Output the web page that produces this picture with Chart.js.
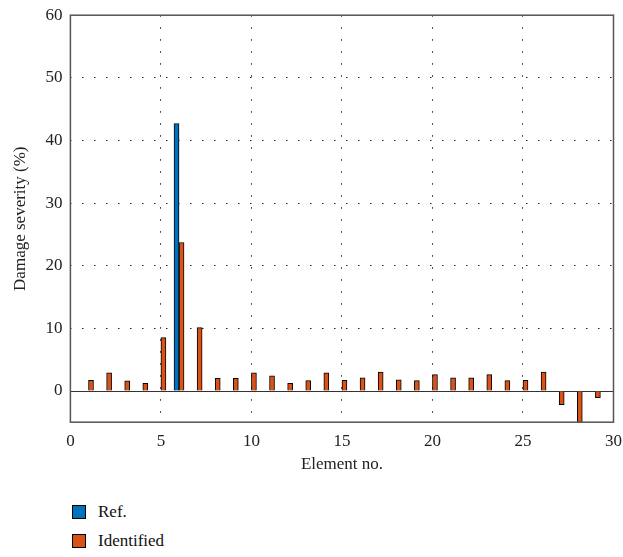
<!DOCTYPE html>
<html>
<head>
<meta charset="utf-8">
<script src="https://cdn.jsdelivr.net/npm/chart.js@4.4.0/dist/chart.umd.min.js"></script>
<style>
  body { margin: 0; background: #fff; width: 623px; height: 557px; position: relative; overflow: hidden; }
  #wrap { position: absolute; left: 0; top: -3px; width: 631px; height: 478px; }
  #legend { position: absolute; left: 72px; top: 497px; font-family: "Liberation Serif", serif; font-size: 17px; color: #111; }
  #legend div { height: 29px; display: flex; align-items: center; }
  #legend span.box { display: inline-block; width: 12px; height: 12px; border: 1px solid #000; margin-right: 12px; }
</style>
</head>
<body>
<div id="wrap"><canvas id="chart"></canvas></div>
<div id="legend"></div>
<script>
const elements = [1,2,3,4,5,6,7,8,9,10,11,12,13,14,15,16,17,18,19,20,21,22,23,24,25,26,27,28,29];
const refValues = [0,0,0,0,0,42.7,0,0,0,0,0,0,0,0,0,0,0,0,0,0,0,0,0,0,0,0,0,0,0];
const identifiedValues = [1.7,2.9,1.6,1.2,8.5,23.7,10.1,2.0,2.0,2.9,2.4,1.2,1.65,2.9,1.7,2.1,3.0,1.75,1.65,2.6,2.1,2.1,2.6,1.65,1.7,3.0,-2.2,-5.1,-1.1];
const xTicks = [0,5,10,15,20,25,30];
const yTicks = [0,10,20,30,40,50,60];

const font = { family: "Liberation Serif", size: 17 };

// zero line and full box round the plot
const frame = {
  id: "frame",
  beforeDatasetsDraw(chart) {
    const ctx = chart.ctx, a = chart.chartArea;
    const y0 = chart.scales.y.getPixelForValue(0);
    ctx.save();
    ctx.strokeStyle = "#333";
    ctx.lineWidth = 1;
    ctx.beginPath();
    ctx.moveTo(a.left, Math.round(y0) + 0.5);
    ctx.lineTo(a.right, Math.round(y0) + 0.5);
    ctx.stroke();
    ctx.restore();
  },
  afterDraw(chart) {
    const ctx = chart.ctx, a = chart.chartArea;
    ctx.save();
    ctx.strokeStyle = "#555";
    ctx.lineWidth = 1.5;
    ctx.strokeRect(a.left, a.top, a.right - a.left, a.bottom - a.top);
    ctx.restore();
  }
};

const chart = new Chart("chart", {
  type: "bar",
  data: {
    datasets: [{
      label: "Ref.",
      data: elements.map((e, i) => ({ x: e, y: refValues[i] })),
      backgroundColor: "#0072BD",
      borderColor: "#000",
      borderWidth: 1,
      barThickness: 5
    }, {
      label: "Identified",
      data: elements.map((e, i) => ({ x: e, y: identifiedValues[i] })),
      backgroundColor: "#D95319",
      borderColor: "#000",
      borderWidth: 1,
      barThickness: 5
    }]
  },
  options: {
    responsive: true,
    maintainAspectRatio: false,
    animation: false,
    layout: { padding: { top: 1, right: 3, left: 10, bottom: 0 } },
    plugins: {
      legend: { display: false },
      tooltip: { enabled: false }
    },
    scales: {
      x: {
        type: "linear",
        offset: false,
        min: 0,
        max: 30,
        afterBuildTicks: s => { s.ticks = xTicks.map(v => ({ value: v })); },
        grid: { color: ctx => ctx.tick && (ctx.tick.value === 0 || ctx.tick.value === 30) ? "rgba(0,0,0,0)" : "#222", drawTicks: false, lineWidth: 1, offset: false },
        border: { display: false, dash: [1.5, 10.5] },
        ticks: { font: font, color: "#222", padding: 9, maxRotation: 0 },
        title: { display: true, text: "Element no.", font: font, color: "#222", padding: { top: -6, bottom: 0 } }
      },
      y: {
        min: -5,
        max: 60,
        afterBuildTicks: s => { s.ticks = yTicks.map(v => ({ value: v })); },
        grid: { color: ctx => ctx.tick && (ctx.tick.value === 0 || ctx.tick.value === 60) ? "rgba(0,0,0,0)" : "#222", drawTicks: false, lineWidth: 1 },
        border: { display: false, dash: [1.5, 10.5] },
        ticks: { font: font, color: "#222", padding: 8 },
        title: { display: true, text: "Damage severity (%)", font: font, color: "#222", padding: { top: 0, bottom: 7 } }
      }
    }
  },
  plugins: [frame]
});

document.getElementById("legend").innerHTML = chart.data.datasets.map(d =>
  '<div><span class="box" style="background:' + d.backgroundColor + '"></span>' + d.label + '</div>'
).join("");
</script>
</body>
</html>
